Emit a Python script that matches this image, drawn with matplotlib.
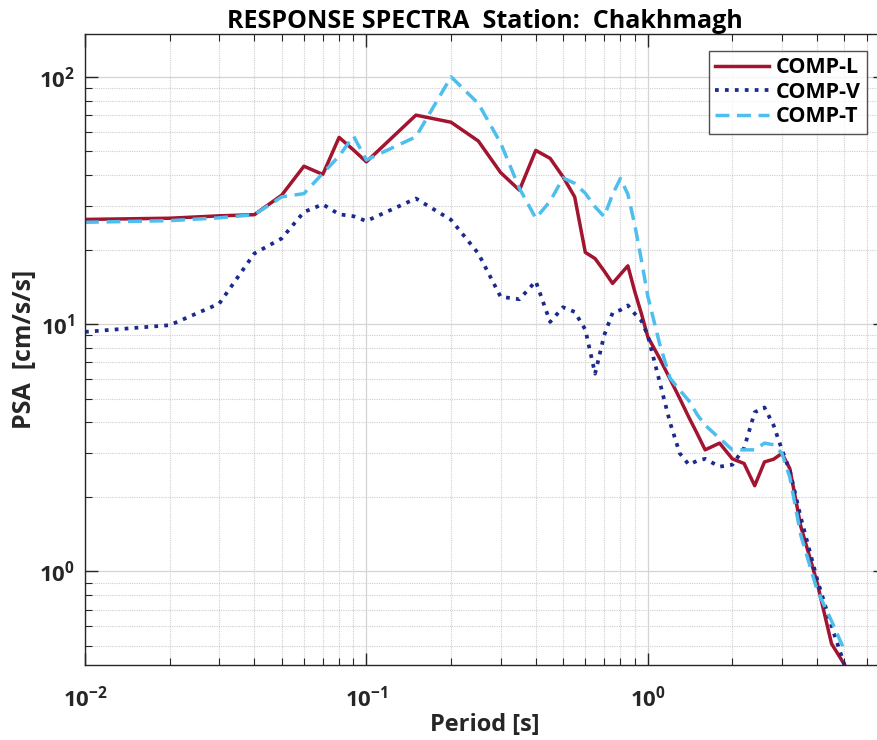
import numpy as np
import matplotlib
matplotlib.use('Agg')
import matplotlib.pyplot as plt
from matplotlib.ticker import FixedLocator, NullFormatter, LogLocator

plt.rcParams['font.family'] = ['Open Sans', 'DejaVu Sans']
plt.rcParams['mathtext.fontset'] = 'custom'
plt.rcParams['mathtext.rm'] = 'Open Sans'
plt.rcParams['mathtext.bf'] = 'Open Sans:bold'

'''Response spectra values read off the figure'''
periods = [0.01, 0.02, 0.03, 0.04, 0.05, 0.06, 0.07, 0.08, 0.09, 0.1,
           0.15, 0.2, 0.25, 0.3, 0.35, 0.4, 0.45, 0.5, 0.55, 0.6,
           0.65, 0.7, 0.75, 0.8, 0.85, 0.9, 0.95, 1.0, 1.1, 1.2,
           1.3, 1.4, 1.5, 1.6, 1.8, 2.0, 2.2, 2.4, 2.6, 2.8,
           3.0, 3.2, 3.5, 4.0, 4.5, 5.0]

comp_l = [26.5, 26.8, 27.4, 27.7, 33.2, 43.5, 40.3, 56.9, 50.6, 45.3,
          70.0, 65.5, 55.0, 41.0, 34.8, 50.4, 46.8, 39.4, 32.7, 19.5,
          18.4, 16.4, 14.6, 15.9, 17.2, 13.5, 11.0, 8.9, 7.3, 6.0,
          5.0, 4.2, 3.6, 3.1, 3.3, 2.85, 2.73, 2.22, 2.77, 2.84,
          3.0, 2.6, 1.52, 0.9, 0.51, 0.42]

comp_v = [9.3, 9.9, 12.1, 19.3, 22.2, 28.4, 30.5, 27.8, 27.3, 26.1,
          32.2, 26.4, 19.3, 12.9, 12.6, 14.9, 10.2, 11.7, 11.2, 9.5,
          6.3, 9.0, 11.1, 11.4, 11.9, 11.0, 10.3, 9.0, 5.9, 4.0,
          3.0, 2.7, 2.8, 2.85, 2.65, 2.7, 3.15, 4.4, 4.6, 3.9,
          3.1, 2.55, 1.65, 0.93, 0.6, 0.42]

comp_t = [25.8, 26.2, 26.9, 27.7, 32.7, 33.7, 40.7, 47.8, 57.6, 46.1,
          57.2, 100.0, 78.0, 54.0, 35.4, 26.8, 31.4, 39.0, 37.1, 33.8,
          29.8, 27.2, 33.5, 38.8, 33.5, 25.1, 18.1, 13.0, 8.4, 6.05,
          5.4, 4.9, 4.3, 3.9, 3.45, 3.1, 3.1, 3.1, 3.3, 3.25,
          3.0, 2.4, 1.4, 0.84, 0.63, 0.48]

station = 'Chakhmagh'

fig = plt.figure(figsize=(8.78, 7.40), dpi=100)
ax = fig.add_axes([85/878, 75/740, 800.5/878, 631/740])

ax.plot(periods, comp_l, '-', color='#A2142F', lw=2.5, label='COMP-L')
ax.plot(periods, comp_v, ':', color='#1B2A8C', lw=2.7, label='COMP-V')
ax.plot(periods, comp_t, '--', color='#4DBEEE', lw=2.5, dashes=(4, 2.2), label='COMP-T')

ax.set_xscale('log')
ax.set_yscale('log')
ax.set_xlim(0.01, 7)
ax.set_ylim(0.418, 149)

ax.xaxis.set_major_locator(FixedLocator([0.01, 0.1, 1.0]))
ax.set_xticklabels([r'$\mathbf{10^{-2}}$', r'$\mathbf{10^{-1}}$', r'$\mathbf{10^{0}}$'])
ax.yaxis.set_major_locator(FixedLocator([1.0, 10.0, 100.0]))
ax.set_yticklabels([r'$\mathbf{10^{0}}$', r'$\mathbf{10^{1}}$', r'$\mathbf{10^{2}}$'])
ax.xaxis.set_minor_locator(LogLocator(base=10, subs=np.arange(2, 10), numticks=20))
ax.yaxis.set_minor_locator(LogLocator(base=10, subs=np.arange(2, 10), numticks=20))
ax.xaxis.set_minor_formatter(NullFormatter())
ax.yaxis.set_minor_formatter(NullFormatter())

ax.tick_params(which='both', direction='in', top=True, right=True, colors='#262626', labelsize=16)
ax.tick_params(which='major', length=9, width=1.0)
ax.tick_params(which='minor', length=5, width=0.8)
ax.tick_params(axis='x', which='major', pad=15)
ax.tick_params(axis='y', which='major', pad=7)

ax.grid(True, which='major', color='#d4d4d4', lw=0.9, ls='-')
ax.grid(True, which='minor', color='#cfcfcf', lw=0.8, ls=(0, (1, 1)))
ax.set_axisbelow(True)
for sp in ax.spines.values():
    sp.set_color('#262626')
    sp.set_linewidth(1.0)

ax.set_xlabel('Period [s]', fontsize=17, fontweight='bold', color='#262626', labelpad=1)
ax.set_ylabel('PSA  [cm/s/s]', fontsize=18, fontweight='bold', color='#262626', labelpad=2)
ax.set_title('RESPONSE SPECTRA  Station:  ' + station, fontsize=18, fontweight='bold',
             color='black', pad=3)

leg = ax.legend(loc='upper right', bbox_to_anchor=(867/878, 1 - 51/740),
                bbox_transform=fig.transFigure, fontsize=15.5, frameon=True,
                fancybox=False, edgecolor='#262626', handlelength=2.5,
                borderpad=0.3, labelspacing=0.16, handletextpad=0.3, borderaxespad=0)
leg.get_frame().set_linewidth(1.0)
for t in leg.get_texts():
    t.set_fontweight('bold')

fig.savefig('out.png', dpi=100, facecolor='white')
